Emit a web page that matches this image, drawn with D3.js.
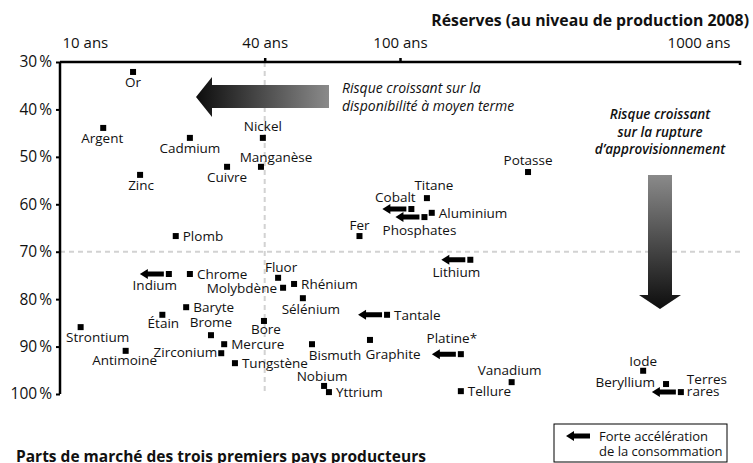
<!DOCTYPE html>
<html>
<head>
<meta charset="utf-8">
<script src="https://cdn.jsdelivr.net/npm/d3@7"></script>
<style>
body { margin: 0; background: #fff; }
svg text { font-family: "Open Sans", "Noto Sans", sans-serif; fill: #111; }
</style>
</head>
<body>
<div id="container"></div>
<script>
// minerais : réserves (années au niveau de production 2008) et part des 3 premiers pays producteurs (%)
var minerals = ["Or", "Argent", "Cadmium", "Zinc", "Cuivre", "Manganèse", "Nickel", "Plomb",
	"Potasse", "Titane", "Cobalt", "Aluminium", "Phosphates", "Fer", "Lithium", "Chrome",
	"Indium", "Fluor", "Molybdène", "Rhénium", "Sélénium", "Tantale", "Baryte", "Étain",
	"Brome", "Strontium", "Bore", "Mercure", "Zirconium", "Antimoine", "Tungstène", "Bismuth",
	"Graphite", "Platine*", "Nobium", "Yttrium", "Tellure", "Vanadium", "Iode", "Beryllium", "Terres rares"];
var reserveYears = [16.4, 13.4, 24.1, 17.2, 31.0, 39.0, 39.5, 21.9,
	238, 120, 108, 124, 118, 76, 161, 24.1,
	20.9, 43.8, 45.3, 48.8, 51.8, 91.6, 23.5, 20.0,
	27.8, 11.5, 39.8, 30.4, 29.8, 15.6, 32.7, 55.1,
	81.6, 151, 59.8, 61.8, 151, 213, 519, 606, 670];
var topThreeShare = [32.1, 43.9, 46.0, 53.8, 52.1, 52.1, 46.0, 66.7,
	53.2, 58.7, 61.0, 61.8, 62.7, 66.7, 71.7, 74.7,
	74.7, 75.5, 77.6, 76.8, 79.8, 83.3, 81.7, 83.3,
	87.6, 85.9, 84.6, 89.5, 91.4, 90.9, 93.5, 89.5,
	88.6, 91.6, 98.3, 99.6, 99.4, 97.5, 95.1, 97.9, 99.6];
// forte accélération de la consommation
var accelerating = ["Cobalt", "Phosphates", "Lithium", "Indium", "Tantale", "Platine*", "Terres rares"];
var xTickValues = [10, 40, 100, 1000];
var xTickLabels = ["10 ans", "40 ans", "100 ans", "1000 ans"];
var yTickValues = [30, 40, 50, 60, 70, 80, 90, 100];

(function()
{
	var width = 753, height = 463;
	var left = 60, right = 740, top = 62, bottom = 394;

	// placement des étiquettes : côté, décalage x, décalage de la ligne de base
	var labelPos = {
		"Or": ["b", 0, 15], "Argent": ["b", -1, 15], "Cadmium": ["b", 0, 15], "Zinc": ["b", 1, 15],
		"Cuivre": ["b", 0, 15], "Manganèse": ["a", 15, -5], "Nickel": ["a", 0, -7], "Plomb": ["r", 7, 5],
		"Potasse": ["a", 0, -7], "Titane": ["a", 7, -8], "Cobalt": ["a", -16, -7], "Aluminium": ["r", 7, 5],
		"Phosphates": ["b", -5, 18], "Fer": ["a", 0, -6], "Lithium": ["b", -14, 17], "Chrome": ["r", 7, 5],
		"Indium": ["b", -14, 16], "Fluor": ["a", 3, -6], "Molybdène": ["l", -6, 5], "Rhénium": ["r", 7, 5],
		"Sélénium": ["b", 8, 16], "Tantale": ["r", 7, 5], "Baryte": ["r", 7, 5], "Étain": ["b", 1, 13],
		"Brome": ["a", 0, -8], "Strontium": ["b", 17, 15], "Bore": ["b", 2, 13], "Mercure": ["r", 7, 5],
		"Zirconium": ["l", -4, 4], "Antimoine": ["b", -1, 14], "Tungstène": ["r", 7, 5], "Bismuth": ["b", 23, 16],
		"Graphite": ["b", 23, 19], "Platine*": ["a", -9, -11], "Nobium": ["a", -2, -5], "Yttrium": ["r", 7, 5],
		"Tellure": ["r", 7, 5], "Vanadium": ["a", -2, -7], "Iode": ["a", 0, -5], "Beryllium": ["l", -11, 3],
		"Terres rares": ["r", 6, 0]
	};

	var svg = d3.select("#container").append("svg").attr("width", width).attr("height", height);

	var x = d3.scaleLog().domain([10, 1000]).range([left, right]);
	var y = d3.scaleLinear().domain([30, 100]).range([top, bottom]);

	var defs = svg.append("defs");
	var gh = defs.append("linearGradient").attr("id", "gradH").attr("x1", "0").attr("x2", "1").attr("y1", "0").attr("y2", "0");
	gh.append("stop").attr("offset", "0").attr("stop-color", "#0d0d0d");
	gh.append("stop").attr("offset", "1").attr("stop-color", "#8a8a8a");
	var gv = defs.append("linearGradient").attr("id", "gradV").attr("x1", "0").attr("x2", "0").attr("y1", "0").attr("y2", "1");
	gv.append("stop").attr("offset", "0").attr("stop-color", "#8a8a8a");
	gv.append("stop").attr("offset", "1").attr("stop-color", "#0d0d0d");

	// lignes de seuil en pointillés
	svg.append("line").attr("x1", x(40)).attr("x2", x(40)).attr("y1", top).attr("y2", bottom)
		.attr("stroke", "#d2d2d2").attr("stroke-width", 2).attr("stroke-dasharray", "5,4");
	svg.append("line").attr("x1", left).attr("x2", right).attr("y1", y(70)).attr("y2", y(70))
		.attr("stroke", "#d2d2d2").attr("stroke-width", 2).attr("stroke-dasharray", "5,4");

	// grosses flèches
	svg.append("path").attr("fill", "url(#gradH)")
		.attr("d", "M196,97 L212,77 L212,85 L329,85 L329,108 L212,108 L212,117 Z");
	svg.append("path").attr("fill", "url(#gradV)")
		.attr("d", "M648,175 L672,175 L672,295 L681,295 L660,309 L639,295 L648,295 Z");

	var t1 = svg.append("text").attr("x", 342).attr("y", 93).style("font-style", "italic").style("font-size", "14px");
	t1.append("tspan").attr("x", 342).text("Risque croissant sur la");
	t1.append("tspan").attr("x", 342).attr("dy", 18).text("disponibilité à moyen terme");

	var t2 = svg.append("text").attr("y", 119).attr("text-anchor", "middle")
		.style("font-style", "italic").style("font-weight", 600).style("font-size", "13.5px");
	["Risque croissant", "sur la rupture", "d’approvisionnement"].forEach(function(s, i)
	{
		t2.append("tspan").attr("x", 660).attr("dy", i ? 17.5 : 0).text(s);
	});

	// axe du haut
	var xAxis = svg.append("g").attr("transform", "translate(0," + top + ")")
		.call(d3.axisTop(x).tickValues(xTickValues).tickSize(4).tickPadding(10)
			.tickFormat(function(d, i) { return xTickLabels[i]; }));
	xAxis.select(".domain").attr("d", "M" + left + ",0H" + right + "V3").attr("stroke", "#000").attr("stroke-width", 2.5).attr("fill", "none");
	xAxis.selectAll(".tick line").attr("stroke-width", 2.5).attr("stroke", "#000")
		.attr("display", function(d) { return (d == 10 || d == 1000) ? "none" : null; });
	xAxis.selectAll(".tick text").style("font-size", "15px").attr("fill", "#111")
		.attr("text-anchor", function(d) { return d == 10 ? "start" : (d == 1000 ? "end" : "middle"); })
		.attr("dx", function(d) { return d == 10 ? 2 : (d == 1000 ? -10 : 0); });

	svg.append("text").attr("x", 749).attr("y", 26).attr("text-anchor", "end")
		.style("font-weight", "bold").style("font-size", "15.8px")
		.text("Réserves (au niveau de production 2008)");

	// axe de gauche
	var yAxis = svg.append("g").attr("transform", "translate(" + left + ",0)")
		.call(d3.axisLeft(y).tickValues(yTickValues).tickSize(4).tickPadding(4)
			.tickFormat(function(d) { return d + "\u202F%"; }));
	yAxis.select(".domain").attr("stroke", "#000").attr("stroke-width", 2.5).attr("d", "M0," + top + "V" + bottom);
	yAxis.selectAll(".tick line").attr("stroke", "#000").attr("stroke-width", 2);
	yAxis.selectAll(".tick text").style("font-size", "15.5px").attr("fill", "#111");

	// points
	var data = minerals.map(function(name, i)
	{
		return { name: name, years: reserveYears[i], share: topThreeShare[i], acc: accelerating.indexOf(name) >= 0 };
	});

	var pts = svg.append("g");
	pts.selectAll("rect").data(data).enter().append("rect")
		.attr("x", function(d) { return x(d.years) - 3; })
		.attr("y", function(d) { return y(d.share) - 3; })
		.attr("width", 6).attr("height", 6).attr("fill", "#000");

	function smallArrow(g, xTip, xTail, yc)
	{
		g.append("path").attr("fill", "#000")
			.attr("d", "M" + xTip + "," + yc + " L" + (xTip + 8) + "," + (yc - 5) + " L" + (xTip + 8) + "," + (yc - 2.5) +
				" L" + xTail + "," + (yc - 2.5) + " L" + xTail + "," + (yc + 2.5) + " L" + (xTip + 8) + "," + (yc + 2.5) +
				" L" + (xTip + 8) + "," + (yc + 5) + " Z");
	}

	data.filter(function(d) { return d.acc; }).forEach(function(d)
	{
		smallArrow(pts, x(d.years) - 29, x(d.years) - 5, y(d.share));
	});

	var labels = svg.append("g").style("font-size", "13.5px");
	data.forEach(function(d)
	{
		var p = labelPos[d.name];
		var px = x(d.years) + p[1], py = y(d.share) + p[2];
		var anchor = p[0] == "r" ? "start" : (p[0] == "l" ? "end" : "middle");
		if (d.name == "Terres rares")
		{
			var tt = labels.append("text").attr("x", px).attr("y", py - 8).attr("text-anchor", "start");
			tt.append("tspan").attr("x", px).text("Terres");
			tt.append("tspan").attr("x", px).attr("dy", 11.5).text("rares");
			return;
		}
		labels.append("text").attr("x", px).attr("y", py).attr("text-anchor", anchor).text(d.name);
	});

	// légende
	svg.append("rect").attr("x", 554).attr("y", 424).attr("width", 173).attr("height", 38)
		.attr("fill", "none").attr("stroke", "#000").attr("stroke-width", 1);
	smallArrow(svg, 566, 590, 436);
	var lg = svg.append("text").attr("y", 441).style("font-size", "13px");
	lg.append("tspan").attr("x", 599).text("Forte accélération");
	lg.append("tspan").attr("x", 599).attr("dy", 14.5).text("de la consommation");

	svg.append("text").attr("x", 16).attr("y", 462).style("font-weight", "bold").style("font-size", "15.5px")
		.text("Parts de marché des trois premiers pays producteurs");
})();
</script>
</body>
</html>
